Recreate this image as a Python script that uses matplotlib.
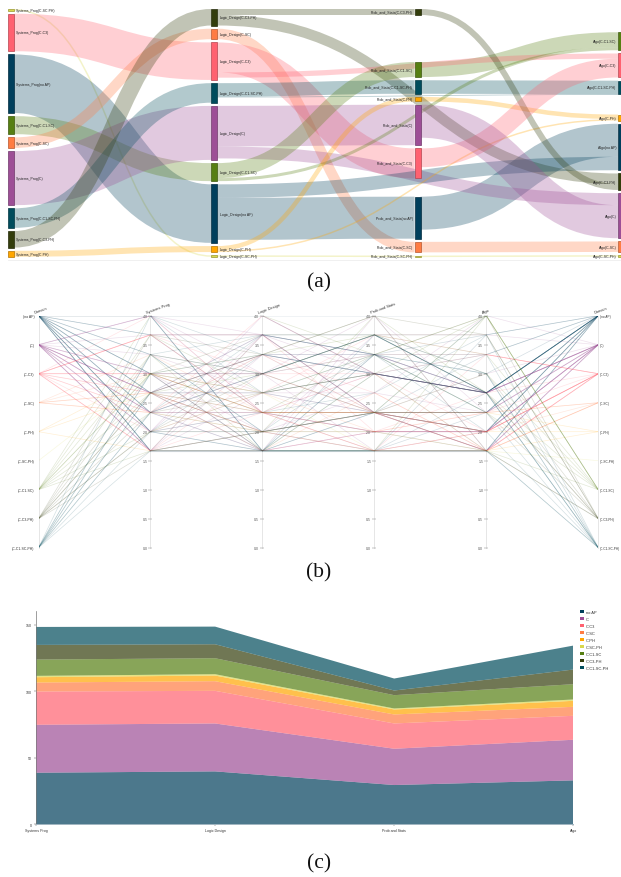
import matplotlib
matplotlib.use("Agg")
import matplotlib.pyplot as plt
from matplotlib.path import Path
from matplotlib.patches import PathPatch, Rectangle, Patch
import numpy as np

plt.rcParams['font.family'] = ['Liberation Sans', 'DejaVu Sans']

# ---------- shared categories ----------
categories = ['no AP', 'C', 'C-C3', 'C-SC', 'C-PH', 'C-SC-PH', 'C-C1-SC', 'C-C3-PH', 'C-C1-SC-PH']
colors = ['#003F5C', '#9D4E96', '#FF6170', '#FF7C43', '#FFA600', '#D9D84E', '#567F12', '#333D0C', '#004C5C']
edge_colors = ['#002A3E', '#6F376A', '#B3444F', '#B3572F', '#B37400', '#989730', '#3C590C', '#232A08', '#003540']
stage_names = ['Systems_Prog', 'Logic_Design', 'Prob_and_Stats', 'Algo']

# ---------- (a) sankey: nodes top to bottom, with their sizes ----------
nodes_systems = ['C-SC-PH', 'C-C3', 'no AP', 'C-C1-SC', 'C-SC', 'C', 'C-C1-SC-PH', 'C-C3-PH', 'C-PH']
sizes_systems = [1, 25, 39, 12, 7, 36, 13, 11, 4]
nodes_logic = ['C-C3-PH', 'C-SC', 'C-C3', 'C-C1-SC-PH', 'C', 'C-C1-SC', 'no AP', 'C-PH', 'C-SC-PH']
sizes_logic = [11, 7, 25, 13, 36, 12, 39, 4, 1]
nodes_prob = ['C-C3-PH', 'C-C1-SC', 'C-C1-SC-PH', 'C-PH', 'C', 'C-C3', 'no AP', 'C-SC', 'C-SC-PH']
sizes_prob = [4, 10, 9, 3, 27, 20, 28, 7, 1]
nodes_algo = ['C-C1-SC', 'C-C3', 'C-C1-SC-PH', 'C-PH', 'no AP', 'C-C3-PH', 'C', 'C-SC', 'C-SC-PH']
sizes_algo = [12, 16, 9, 4, 31, 11, 30, 7, 1]

# links: from stage/category to stage/category with a value
link_from_stage = [0]*9 + [2]*6 + [1]*16 + [2]*3
link_from_cat = ['C-SC-PH', 'C-C3', 'no AP', 'C-C1-SC', 'C-SC', 'C', 'C-C1-SC-PH', 'C-C3-PH', 'C-PH',
                 'no AP', 'C-C1-SC', 'C-PH', 'C-C1-SC-PH', 'C-SC', 'C-SC-PH',
                 'C-C3-PH', 'C-C3-PH', 'C-SC', 'C-C3', 'C-C3', 'C-C1-SC-PH', 'C-C1-SC-PH', 'C', 'C',
                 'C-C1-SC', 'C-C1-SC', 'no AP', 'no AP', 'C-PH', 'C-PH', 'C-SC-PH',
                 'C-C3-PH', 'C-C3', 'C']
link_to_stage = [1]*9 + [3]*6 + [2, 3, 2, 2, 3, 2, 3, 2, 3, 2, 3, 3, 2, 2, 3, 2] + [3]*3
link_to_cat = link_from_cat
link_value = [1, 25, 39, 12, 7, 36, 13, 11, 4,
              22, 10, 3, 9, 7, 1,
              4, 7, 7, 20, 3.5, 9, 0.5, 27, 8,
              10, 2, 9, 28, 3, 1, 1,
              4, 12.5, 22]

# ---------- (b) parallel coordinates ----------
pc_titles = ['Domain', 'Systems Prog', 'Logic Design', 'Prob and Stats', 'Algo', 'Domain']
pc_ticks = [4.0, 3.5, 3.0, 2.5, 2.0, 1.5, 1.0, 0.5, 0.0]
pc_cat_labels = ['(no AP)', '(C)', '(C-C3)', '(C-SC)', '(C-PH)', '(C-SC-PH)', '(C-C1-SC)', '(C-C3-PH)', '(C-C1-SC-PH)']
student_cat = (['no AP']*26 + ['C']*24 + ['C-C3']*16 + ['C-SC']*6 + ['C-PH']*3 +
               ['C-SC-PH']*1 + ['C-C1-SC']*9 + ['C-C3-PH']*9 + ['C-C1-SC-PH']*11)
sys_grade = [4,4,4,4,4,3.67,3.67,3.33,3.33,3,3,3,2.67,2.67,2.67,2.33,2.33,2.33,2,2,2,2,1.67,1.67,1.67,1.67,
             4,4,4,3.67,3.33,3,3,3,2.67,2.67,2.67,2.67,2.67,2.33,2.33,2.33,2.33,2,2,2,1.67,1.67,1.67,1.67,
             4,3.67,3.67,3.67,3.67,3,3,3,2.67,2.67,2.33,2.33,2,1.67,1.67,1.67,
             3.33,3,2.67,2.67,2.33,2.33,
             3,2.67,1.67,
             3,
             4,3.67,3.33,3,3,2.67,2.33,2,1.67,
             3.67,3.33,3,2.67,2.67,2.33,2,2,1.67,
             4,3.33,3.33,3,3,2.67,2.67,2.33,2.33,2,1.67]
logic_grade = [1.67,1.67,1.67,4,2.67,3.67,2.33,3,2,3.33,1.67,2.67,3.67,2,1.67,3,1.67,2.33,1.67,1.67,3.33,2,1.67,1.67,2,3.67,
               3.67,2.33,3,3.67,2.67,3,2,2.33,3.67,3.33,2,2.67,1.67,3,3.33,2.33,1.67,4,3.67,2.33,3.33,2,2.67,1.67,
               2.33,3.67,2.33,3,2.33,2.33,3,1.67,3.33,2,2.33,4,2.67,2.33,3,3.67,
               2.33,2.67,2.33,1.67,3.33,2,
               2.33,2,2,
               2.67,
               4,2.67,1.67,2.33,3.33,3,2,2.67,1.67,
               3.33,3,3.67,3.33,2.33,2.67,2,3,1.67,
               3.33,3.67,2,3,1.67,3.33,2.67,3.67,3,2.33,2]
prob_grade = [3.33,2.33,1.67,3,2.33,3.33,2.33,3.67,1.67,3,1.67,3.33,3.67,2.33,3,3.33,2.33,2,3.33,1.67,3,2.33,1.67,3.67,2,3.33,
              2.33,3,4,3.33,3,2.33,2.67,2,3,2.33,3.67,2.33,4,1.67,3.33,2.33,2,3,2.33,1.67,3,2.33,2.67,2,
              3,2.33,2,3,2.33,2.33,3.33,2,2.67,1.67,2,3,3.67,1.67,2.33,2,
              2.33,2,1.67,2.67,2.33,1.67,
              2.33,2,2.33,
              1.67,
              3.33,3,1.67,2.33,3.67,2.33,4,3.33,3,
              4,3.67,3.67,4,3.33,3,2.33,3.67,1.67,
              3,3.33,2.33,3.67,1.67,3.33,3,2.33,3.67,2.67,3.33]
algo_grade = [2.67,2,1.67,2.67,3.33,3.67,2,2.67,2.33,2.67,2.67,2.33,2.67,4,3.33,2.67,2,1.67,3,1.67,2.67,2.33,3.67,2.67,2,2.33,
              2,2.67,1.67,2.67,2.67,1.67,4,2,2.67,2,3.67,2.33,2.33,1.67,2.67,2.33,2,2.67,1.67,2,2.67,3,2.33,2,
              2,1.67,2,3.33,2,2,3.33,2,1.67,3.33,2.33,1.67,3.33,2,1.67,2.67,
              1.67,2.33,2,1.67,2.33,1.67,
              2,1.67,2.33,
              1.67,
              4,4,4,4,3.33,3,2.67,2.33,1.67,
              3.67,2.67,3,1.67,4,2.67,2.33,3.67,1.67,
              2.67,3.33,1.67,2.67,1.67,3,2.67,2.33,3,3.67,2]

# ---------- (c) stacked area ----------
area_courses = ['Systems Prog', 'Logic Design', 'Prob and Stats', 'Algo']
area_noap = [38.75, 39.75, 29.5, 33]
area_c = [36, 36, 27.25, 30.5]
area_c3 = [25, 24.5, 19, 18]
area_sc = [6.75, 7.25, 6.75, 6.75]
area_ph = [4, 4.25, 3.75, 4.5]
area_scph = [1, 1, 0.75, 1]
area_c1sc = [12.25, 12, 10, 11.5]
area_c3ph = [11, 10.5, 3.5, 11]
area_c1scph = [13.5, 13.25, 9, 18]
area_ticks = [0, 50, 100, 150]

# ---------- layout ----------
W, H = 621, 878
fig = plt.figure(figsize=(W/100, H/100), dpi=100, facecolor='white')

def px_axes(x0, y0, x1, y1):
    a = fig.add_axes([x0/W, 1-y1/H, (x1-x0)/W, (y1-y0)/H])
    a.patch.set_alpha(0)
    return a

col = dict(zip(categories, colors))
edge = dict(zip(categories, edge_colors))

# (a) sankey
UNIT_PX = 1.5
STAGE_PX = 203.33
GAP = 2.15
NODE_W = 6/STAGE_PX
ax = px_axes(8, 10, 621, 260.5)
ax.set_xlim(0, (621-8)/STAGE_PX)
ax.set_ylim(250.5/UNIT_PX, 0)
for s in ['top', 'left', 'right']:
    ax.spines[s].set_visible(False)
ax.spines['bottom'].set_color('#eeeeee')
ax.spines['bottom'].set_linewidth(0.6)
ax.set_xticks([]); ax.set_yticks([])

stage_nodes = [nodes_systems, nodes_logic, nodes_prob, nodes_algo]
stage_sizes = [sizes_systems, sizes_logic, sizes_prob, sizes_algo]
extra_gap = {(2, 'C-C1-SC'): 29.2, (2, 'no AP'): 10.0,
             (3, 'C-C1-SC'): 15.5, (3, 'C-PH'): 11.4}
tops = {}
for i, (nn, ss) in enumerate(zip(stage_nodes, stage_sizes)):
    y = 0.0
    for n, v in zip(nn, ss):
        y += extra_gap.get((i, n), 0)
        tops[(i, n)] = (y, v)
        y += v + GAP

out_off = {k: 0.0 for k in tops}
in_off = {k: 0.0 for k in tops}
lw_per_unit = UNIT_PX*72/100
for fs, fc, ts, tc, v in zip(link_from_stage, link_from_cat, link_to_stage, link_to_cat, link_value):
    a = (fs, fc); b = (ts, tc)
    y0 = tops[a][0] + out_off[a] + v/2
    y1 = tops[b][0] + in_off[b] + v/2
    out_off[a] += v; in_off[b] += v
    x0 = fs + NODE_W; x1 = ts
    xm = (x0+x1)/2
    p = Path([(x0, y0), (xm, y0), (xm, y1), (x1, y1)], [Path.MOVETO, Path.CURVE4, Path.CURVE4, Path.CURVE4])
    ax.add_patch(PathPatch(p, fc='none', ec=col[fc], lw=v*lw_per_unit, alpha=0.3, capstyle='butt', zorder=1))

for (i, n), (y, v) in tops.items():
    ax.add_patch(Rectangle((i, y), NODE_W, v, fc=col[n], ec=edge[n], lw=0.5, zorder=3, clip_on=True))
    label = f'{stage_names[i]}({n})'
    if i < 2:
        ax.annotate(label, (i+NODE_W, y+v/2), xytext=(1.6, 0), textcoords='offset points',
                    ha='left', va='center', fontsize=2.5, color='#222222', zorder=4)
    else:
        ax.annotate(label, (i, y+v/2), xytext=(-1.2, 0), textcoords='offset points',
                    ha='right', va='center', fontsize=2.5, color='#222222', zorder=4)

# (b) parallel coordinates
bx = px_axes(38.5, 316.7, 598.3, 548.7)
bx.set_xlim(0, 5); bx.set_ylim(0, 4)
bx.axis('off')
cat_y = {c: 4.0 - 0.5*i for i, c in enumerate(categories)}
for c, g1, g2, g3, g4 in zip(student_cat, sys_grade, logic_grade, prob_grade, algo_grade):
    bx.plot(range(6), [cat_y[c], g1, g2, g3, g4, cat_y[c]], color=col[c], lw=0.5, alpha=0.17,
            solid_joinstyle='round', zorder=2)
bx.plot([0, 5], [4, 4], color='#003F5C', lw=1.1, alpha=0.08, zorder=2)
bx.plot([1, 4], [1.67, 1.67], color='#003F5C', lw=0.9, alpha=0.1, zorder=2)
for i in range(6):
    bx.plot([i, i], [0, 4], color='#e6e6e6', lw=0.7, zorder=1, clip_on=False)
    bx.annotate(pc_titles[i], (i, 4), xytext=(-2.2, 1.4), textcoords='offset points', rotation=20,
                rotation_mode='anchor', ha='left', va='bottom', fontsize=2.9, color='#333333',
                annotation_clip=False)
    for t, c in zip(pc_ticks, pc_cat_labels):
        if i == 0:
            bx.annotate(c, (i, t), xytext=(-2.8, 0), textcoords='offset points', ha='right', va='center',
                        fontsize=2.5, color='#333333', annotation_clip=False)
        elif i == 5:
            bx.annotate(c, (i, t), xytext=(1.2, 0), textcoords='offset points', ha='left', va='center',
                        fontsize=2.25, color='#333333', annotation_clip=False)
        else:
            bx.annotate(f'{t:.1f}', (i, t), xytext=(-2.2, 0), textcoords='offset points', ha='right', va='center',
                        fontsize=2.5, color='#555555', annotation_clip=False)
            bx.plot([i], [t], marker='_', ms=2.2, mew=0.35, color='#888888', clip_on=False, zorder=1)

# (c) stacked area
cx = px_axes(36, 612.3, 573.3, 825.3)
cx.set_xlim(0, 3); cx.set_ylim(0, 160)
cx.stackplot(range(4), area_noap, area_c, area_c3, area_sc, area_ph, area_scph, area_c1sc, area_c3ph, area_c1scph,
             colors=colors, alpha=0.7, lw=0)
for s in ['top', 'right']:
    cx.spines[s].set_visible(False)
cx.spines['left'].set_color('#777777'); cx.spines['left'].set_linewidth(0.5)
cx.spines['bottom'].set_color('#9fb4c0'); cx.spines['bottom'].set_linewidth(0.7)
cx.set_yticks(area_ticks)
cx.set_xticks(range(4))
cx.set_xticklabels(area_courses)
cx.tick_params(axis='both', labelsize=2.6, length=1.6, width=0.35, color='#666666', labelcolor='#333333', pad=1.2)
handles = [Patch(fc=c, ec='none') for c in colors]
leg = fig.legend(handles, categories, loc='upper left', bbox_to_anchor=(580.4/W, 1-610.6/H), frameon=False,
                 fontsize=2.9, labelspacing=0.72, handlelength=0.95, handleheight=0.95, handletextpad=0.45,
                 borderpad=0, borderaxespad=0, labelcolor='#333333')

# sub-figure captions
for label, y in zip(['(a)', '(b)', '(c)'], [283, 573, 864]):
    fig.text(319/W, 1-y/H, label, ha='center', va='center', fontsize=15.5, family='Liberation Serif', color='#111111')

fig.savefig('out.png', dpi=100, facecolor='white')
